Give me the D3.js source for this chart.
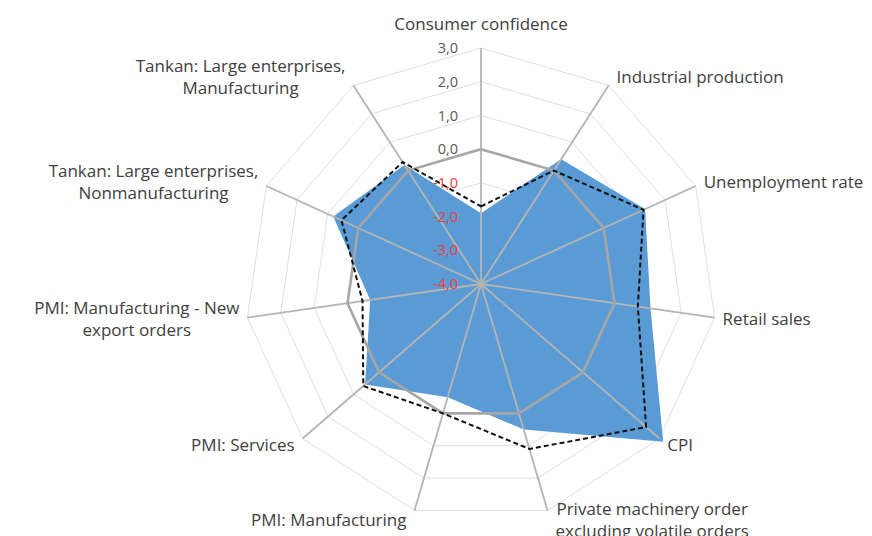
<!DOCTYPE html>
<html>
<head>
<meta charset="utf-8">
<script src="https://cdn.jsdelivr.net/npm/d3@7"></script>
<style>
  body { margin: 0; background: #fff; }
  text { font-family: "Open Sans", sans-serif; }
</style>
</head>
<body>
<div id="radar"></div>
<script>
// categories clockwise from the top, multi-line labels as arrays
var categories = [
    ["Consumer confidence"],
    ["Industrial production"],
    ["Unemployment rate"],
    ["Retail sales"],
    ["CPI"],
    ["Private machinery order", "excluding volatile orders"],
    ["PMI: Manufacturing"],
    ["PMI: Services"],
    ["PMI: Manufacturing - New", "export orders"],
    ["Tankan: Large enterprises,", "Nonmanufacturing"],
    ["Tankan: Large enterprises,", "Manufacturing"]
];

var latest   = [-1.9, 0.4, 1.35, 1.08, 3.15, 0.5, -0.5, 0.55, -0.68, 0.82, 0.2];
var previous = [-1.7, 0.0, 1.3, 0.7, 2.48, 1.1, 0.0, 0.62, -0.45, 0.55, 0.3];
var zeroLine = [0, 0, 0, 0, 0, 0, 0, 0, 0, 0, 0];

var ticks = [-4, -3, -2, -1, 0, 1, 2, 3];

var width = 872, height = 536,
    cx = 481, cy = 284, radius = 236;

var svg = d3.select("#radar")
    .append("svg")
    .attr("width", width)
    .attr("height", height)
    .append("g")
    .attr("transform", "translate(" + cx + "," + cy + ")");

var r = d3.scaleLinear()
    .domain([ticks[0], ticks[ticks.length - 1]])
    .range([0, radius]);

var n = categories.length;
var angle = function(i) { return i * 2 * Math.PI / n; };

var radial = d3.lineRadial()
    .angle(function(d, i) { return angle(i); })
    .radius(function(d) { return r(d); })
    .curve(d3.curveLinearClosed);

var fmt = d3.formatLocale({ decimal: ",", thousands: ".", grouping: [3], currency: ["", ""], minus: "-" }).format(".1f");

// light grid rings
svg.append("g")
    .selectAll("path")
    .data(ticks.slice(1))
    .enter()
    .append("path")
    .attr("d", function(t) { return radial(categories.map(function() { return t; })); })
    .attr("fill", "none")
    .attr("stroke", "#dedede")
    .attr("stroke-width", 1);

// latest values - blue area
svg.append("path")
    .attr("d", radial(latest))
    .attr("fill", "#5b9bd5");

// spokes
svg.append("g")
    .selectAll("line")
    .data(categories)
    .enter()
    .append("line")
    .attr("x1", 0).attr("y1", 0)
    .attr("x2", function(d, i) { return r(ticks[ticks.length - 1]) * Math.sin(angle(i)); })
    .attr("y2", function(d, i) { return -r(ticks[ticks.length - 1]) * Math.cos(angle(i)); })
    .attr("stroke", "#b4b4b4")
    .attr("stroke-width", 1.8);

// zero reference line
svg.append("path")
    .attr("d", radial(zeroLine))
    .attr("fill", "none")
    .attr("stroke", "#a6a6a6")
    .attr("stroke-width", 2.6);

// previous values - dashed
svg.append("path")
    .attr("d", radial(previous))
    .attr("fill", "none")
    .attr("stroke", "#111")
    .attr("stroke-width", 2)
    .attr("stroke-dasharray", "5,3");

// value labels on the vertical axis
svg.append("g")
    .selectAll("text")
    .data(ticks)
    .enter()
    .append("text")
    .attr("x", -23)
    .attr("y", function(t) { return -r(t); })
    .attr("dy", "0.35em")
    .attr("text-anchor", "end")
    .attr("font-size", 14.5)
    .attr("fill", function(t) { return t < 0 ? "#f03c3c" : "#595959"; })
    .text(function(t) { return fmt(t); });

// category labels
var lineH = 21.5;
var labels = svg.append("g")
    .selectAll("text")
    .data(categories)
    .enter()
    .append("text")
    .attr("font-size", 17)
    .attr("fill", "#404040")
    .attr("text-anchor", "middle");

labels.each(function(lines, i) {
    var t = d3.select(this);
    var a = angle(i), s = Math.sin(a), c = Math.cos(a);
    var ex = radius * s, ey = -radius * c;
    lines.forEach(function(l, k) {
        t.append("tspan").text(l);
    });
    var w = d3.max(t.selectAll("tspan").nodes(), function(nd) { return nd.getComputedTextLength(); });
    var x, yc;
    if (Math.abs(s) < 0.01) {
        x = ex;
        yc = ey - 24;
    } else {
        x = s > 0 ? ex + 8 + w / 2 : ex - 8 - w / 2;
        yc = ey - 10 * c;
    }
    var top = yc - (lines.length - 1) * lineH / 2;
    t.selectAll("tspan")
        .attr("x", x)
        .attr("y", function(d, k) { return top + k * lineH; })
        .attr("dy", "0.35em");
});
</script>
</body>
</html>
